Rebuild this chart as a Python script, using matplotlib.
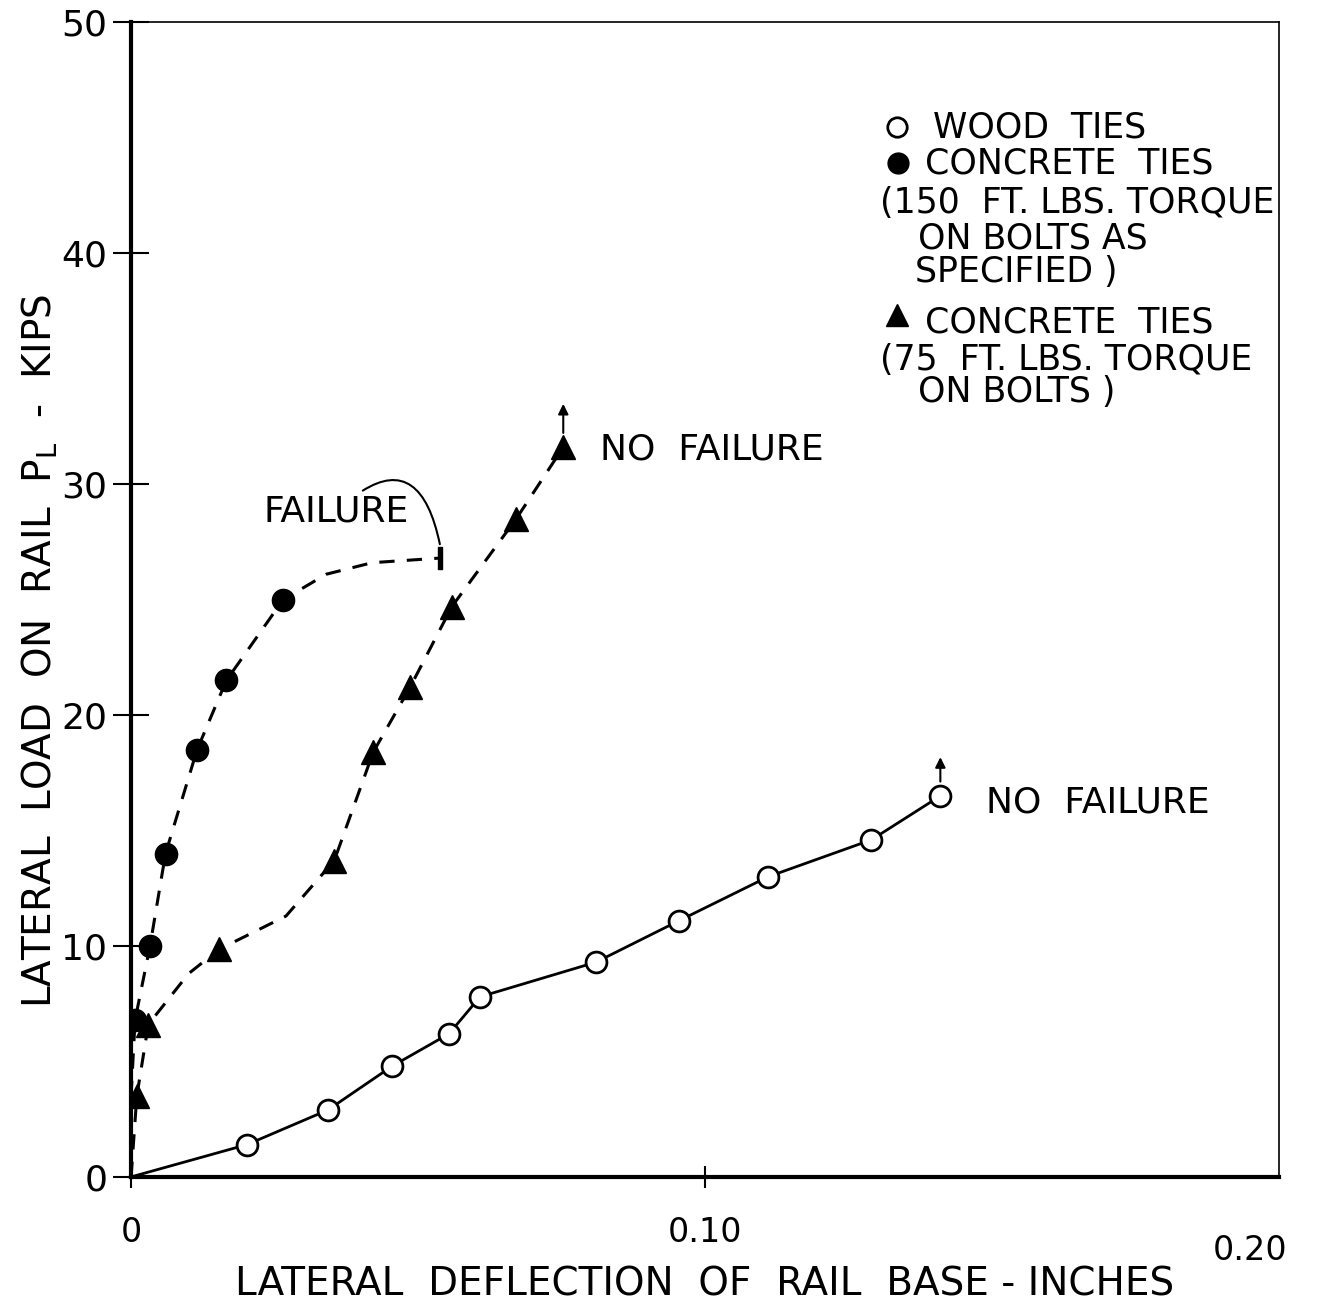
import matplotlib.pyplot as plt

plt.rcParams['font.family'] = ['DejaVu Sans']

# wood ties (open circles)
wood_x = [0.0202, 0.0343, 0.0455, 0.0554, 0.0608, 0.081, 0.0955, 0.111, 0.129, 0.141]
wood_y = [1.4, 2.9, 4.8, 6.2, 7.8, 9.3, 11.1, 13.0, 14.6, 16.5]

# concrete ties, 150 ft-lbs torque (filled circles)
c150_x = [0.0007, 0.0033, 0.006, 0.0115, 0.0166, 0.0265]
c150_y = [6.8, 10.0, 14.0, 18.5, 21.5, 25.0]
# dashed curve (continues to the failure point)
c150_curve_x = [0.0, 0.0007, 0.0033, 0.006, 0.0115, 0.0166, 0.0265, 0.034, 0.042, 0.0538]
c150_curve_y = [3.5, 6.8, 10.0, 14.0, 18.5, 21.5, 25.0, 26.1, 26.6, 26.8]
fail_x, fail_y = 0.0538, 26.8

# concrete ties, 75 ft-lbs torque (filled triangles)
c75_x = [0.001, 0.003, 0.0153, 0.0354, 0.0422, 0.0486, 0.0559, 0.0671, 0.0753]
c75_y = [3.5, 6.6, 9.85, 13.7, 18.4, 21.2, 24.7, 28.5, 31.6]
c75_curve_x = [0.0, 0.001, 0.003, 0.010, 0.0153, 0.027, 0.0354, 0.0422, 0.0486, 0.0559, 0.0671, 0.0753]
c75_curve_y = [0.0, 3.5, 6.6, 8.8, 9.85, 11.3, 13.7, 18.4, 21.2, 24.7, 28.5, 31.6]

fig = plt.figure(figsize=(13.24, 13.15), dpi=100)
ax = fig.add_axes([0.099, 0.105, 0.867, 0.878])

ax.set_xlim(0, 0.2)
ax.set_ylim(0, 50)

## CURVES ##
ax.plot([0] + wood_x, [0] + wood_y, color='black', lw=2.0)
ax.plot(wood_x, wood_y, 'o', ms=15, mfc='white', mec='black', mew=2.0)

ax.plot(c150_curve_x, c150_curve_y, color='black', lw=2.2, dashes=(5, 4))
ax.plot(c150_x, c150_y, 'o', ms=16, color='black')
ax.plot([fail_x], [fail_y], marker=r'$\mathrm{I}$', ms=16, color='black')

ax.plot(c75_curve_x, c75_curve_y, color='black', lw=2.2, dashes=(5, 4))
ax.plot(c75_x, c75_y, '^', ms=17, color='black')

## ANNOTATIONS ##
ax.annotate('', xy=(c75_x[-1], 33.6), xytext=(c75_x[-1], 32.1),
            arrowprops=dict(arrowstyle='-|>', color='black', lw=1.5, mutation_scale=15))
ax.annotate('', xy=(wood_x[-1], 18.3), xytext=(wood_x[-1], 17.0),
            arrowprops=dict(arrowstyle='-|>', color='black', lw=1.5, mutation_scale=15))
ax.text(0.0817, 31.5, 'NO  FAILURE', fontsize=26, va='center', ha='left')
ax.text(0.149, 16.2, 'NO  FAILURE', fontsize=26, va='center', ha='left')
ax.annotate('FAILURE', xy=(fail_x, 27.4), xytext=(0.0484, 28.8),
            fontsize=26, va='center', ha='right',
            arrowprops=dict(arrowstyle='-', color='black', lw=1.5,
                            connectionstyle='arc3,rad=-0.9', shrinkA=2, shrinkB=0))

## AXES ##
for s in ['left', 'bottom']:
    ax.spines[s].set_linewidth(3)
for s in ['top', 'right']:
    ax.spines[s].set_linewidth(1.2)

ax.set_yticks([0, 10, 20, 30, 40, 50])
ax.set_yticklabels(['0', '10', '20', '30', '40', '50'])
ax.set_xticks([0, 0.1])
ax.set_xticklabels(['0', '0.10'])
ax.tick_params(axis='y', direction='inout', length=26, width=1.5, labelsize=26, pad=4)
ax.tick_params(axis='x', direction='inout', length=16, width=1.5, labelsize=24, pad=20)
ax.text(0.195, -3.2, '0.20', fontsize=24, ha='center', va='center')

ax.set_ylabel(r'LATERAL  LOAD  ON  RAIL  $\mathrm{P_L}$  -  KIPS', fontsize=28)
ax.yaxis.set_label_coords(-0.062, 0.456)
ax.set_xlabel('LATERAL  DEFLECTION  OF  RAIL  BASE - INCHES', fontsize=28, labelpad=12)

## LEGEND (hand-lettered block) ##
ft = fig.transFigure
ax.plot([0.6775], [0.9034], 'o', ms=14, mfc='white', mec='black', mew=2, transform=ft, clip_on=False)
ax.plot([0.678], [0.876], 'o', ms=15, color='black', transform=ft, clip_on=False)
ax.plot([0.6775], [0.7605], '^', ms=16, color='black', transform=ft, clip_on=False)
legend_lines = [
    (0.7047, 0.9027, 'WOOD  TIES'),
    (0.6986, 0.8760, 'CONCRETE  TIES'),
    (0.6647, 0.8456, '(150  FT. LBS. TORQUE'),
    (0.6934, 0.8190, 'ON BOLTS AS'),
    (0.6910, 0.7932, 'SPECIFIED )'),
    (0.6986, 0.7551, 'CONCRETE  TIES'),
    (0.6647, 0.7262, '(75  FT. LBS. TORQUE'),
    (0.6934, 0.7019, 'ON BOLTS )'),
]
for lx, ly, s in legend_lines:
    fig.text(lx, ly, s, fontsize=25, ha='left', va='center')

fig.savefig('out.png', dpi=100)
